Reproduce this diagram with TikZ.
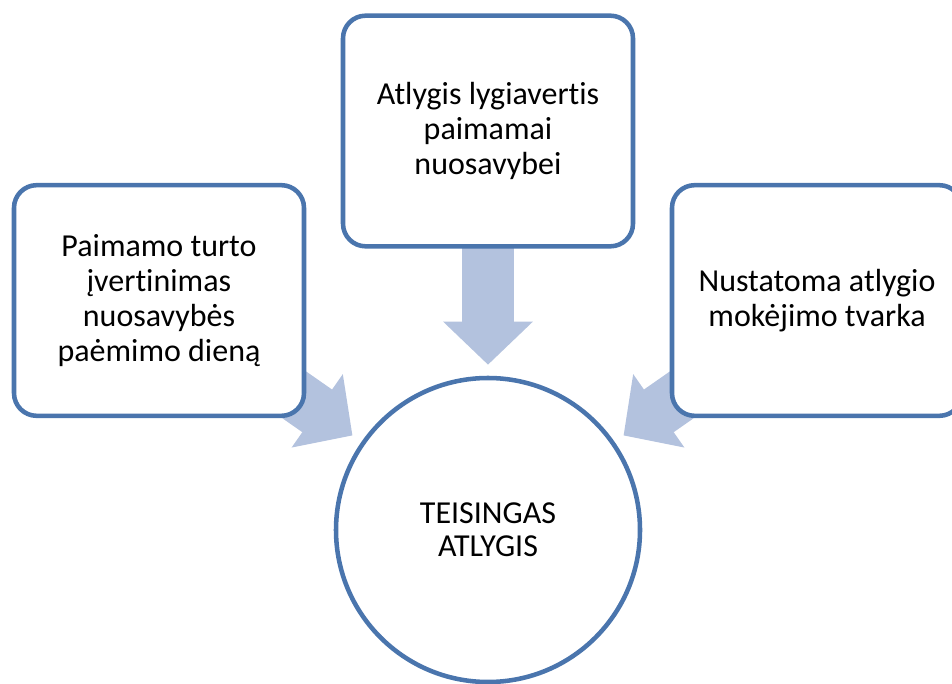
\documentclass[tikz,border=0pt]{standalone}
\usepackage{fontspec}
\setmainfont{Carlito}[Ligatures=NoCommon]
\usetikzlibrary{arrows.meta,backgrounds}

\begin{document}
\begin{tikzpicture}[x=0.75pt,y=-0.75pt,
  box/.style={draw={rgb,255:red,74;green,117;blue,173}, line width=3.4pt, fill=white, rounded corners=17pt, minimum width=217.5pt, minimum height=173pt, align=center, font=\fontsize{24pt}{26.2pt}\selectfont},
  ring/.style={circle, draw={rgb,255:red,74;green,117;blue,173}, line width=3.4pt, fill=white, minimum size=228pt, align=center, font=\fontsize{24pt}{24.5pt}\selectfont},
  bigarrow/.style={draw={rgb,255:red,179;green,194;blue,222}, line width=39pt, -{Triangle[width=65.25pt,length=32.25pt,fill={rgb,255:red,179;green,194;blue,222}]}, shorten >=8.25pt}]
\useasboundingbox (0,0) rectangle (952,684);

\node[box] (paimamo) at (159,300.5) {Paimamo turto\\įvertinimas\\nuosavybės\\paėmimo dieną};
\node[box] (lygiavertis) at (488,131) {Atlygis lygiavertis\\paimamai\\nuosavybei};
\node[box] (tvarka) at (817,300.5) {Nustatoma atlygio\\mokėjimo tvarka};
\node[ring] (atlygis) at (488,530) {TEISINGAS\\ATLYGIS};

\begin{scope}[on background layer]
\draw[bigarrow] (paimamo.center) -- (atlygis);
\draw[bigarrow] (lygiavertis.center) -- (atlygis);
\draw[bigarrow] (tvarka.center) -- (atlygis);
\end{scope}

\end{tikzpicture}
\end{document}
